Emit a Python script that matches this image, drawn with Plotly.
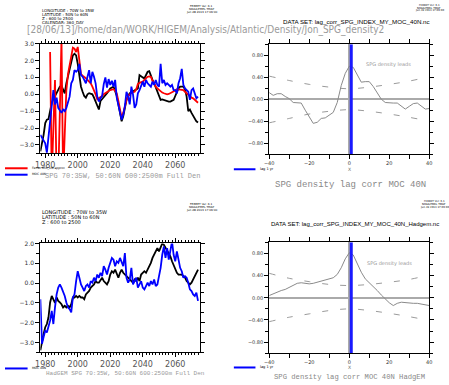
import plotly.graph_objects as go

W, H = 449, 385
def px(x): return x / W
def py(y): return 1 - y / H

# ---------------- data ----------------
YEAR0 = 1977
top_black = [-3.37, -2.9, -2.4, -1.7, -1.5, -1.47, -0.9, -0.5, -0.3, -0.1,
             0.06, 0.25, 0.45, 0.5, 0.25, 0.06, 0.65, 1.04, 1.43, 1.92,
             2.3, 2.4, 2.3, 1.8, 1.04, 0.45, 0.15, -0.1, -0.2, 0.0,
             0.06, 0.02, 0.0, -0.2, -0.4, -0.7, -0.9, -0.4, -0.3, -0.2,
             -0.05, 0.06, 0.2, 0.35, 0.4, 0.45, 0.2, -0.1, -0.6, -1.1,
             -1.6, -1.3, -0.8, -0.33, -0.1, 0.06, 0.1, 0.15, 0.25, 0.3,
             0.35, 1.14, 1.04, 1.0, 0.94, 1.1, 1.33, 1.37, 1.04, 0.85,
             0.65, 0.4, 0.16, -0.1, -0.33, -0.3, -0.33, -0.4, -0.43, -0.43,
             -0.43, -0.4, -0.33, -0.1, 0.16, 0.35, 0.45, 0.45, 0.45, 0.3,
             -0.14, -1.0, -0.9, -1.1, -1.3, -1.5, -1.6, -1.67]

RED_YEAR0 = 1983
top_red = [2.5, -5, -2.0, 0.85, -5, -5, -1.0, 3.3, -5, -2.5,
           0.25, 1.2, 1.8, 2.4, 2.76, 2.7, 2.5, 2.8, 1.8, 1.2,
           1.1, 1.04, 0.95, 0.85, 0.75, 0.65, 0.45, 0.25, 0.0, -0.3,
           -0.25, -0.2, -0.1, 0.0, 0.08, 0.15, 0.2, 0.25, 0.28, 0.3,
           0.2, 0.06, -0.4, -0.9, -1.4, -1.1, -0.7, -0.35, -0.1, 0.0,
           0.08, 0.12, 0.15, 0.3, 0.6, 0.68, 0.7, 0.75, 0.85, 0.95,
           1.04, 1.06, 1.04, 0.8, 0.6, 0.45, 0.35, 0.25, 0.15, 0.1,
           0.06, 0.03, 0.0, 0.02, 0.06, 0.1, 0.15, 0.22, 0.3, 0.28,
           0.25, 0.25, 0.25, 0.15, 0.06, -0.05, -0.14, -0.2, -0.24, -0.33,
           -0.43, -0.5]

top_blue = [-2.4, -2.6, -2.7, -2.9, -3.45, -2.5, -1.6, -0.5, 0.25, -0.6,
            -0.2, -0.8, -1.0, -1.1, -0.9, -1.0, -0.8, -0.4, -0.14, 0.65,
            0.85, 1.43, 1.33, 1.43, 1.8, 1.14, 1.04, 0.85, 0.65, 1.04,
            1.43, 0.65, 1.33, 1.04, 0.65, -0.14, -0.43, -0.24, -0.1, 0.6,
            1.0, 0.4, 0.9, 0.55, 0.8, 0.45, 0.85, -0.2, -0.6, -1.1,
            -1.5, -1.2, -0.7, 0.15, -0.14, -0.6, 0.45, 0.0, -0.8, -0.6,
            0.06, 0.25, 0.45, 0.75, 0.45, 0.85, 0.65, 0.55, 0.45, 0.75,
            0.55, 0.85, 0.55, 0.45, 1.8, 0.65, 0.85, 0.55, 0.65, 0.55,
            0.45, 0.55, 0.25, 0.25, 0.06, 0.65, 0.95, 1.5, 0.55, 0.35,
            0.25, 0.15, -0.33, 0.25, 0.35, 0.06, -0.24, -0.14]

bot_black = [-3.4, -2.9, -2.57, -2.23, -2.07, -1.73, -0.98, -0.65, -0.82, -1.0,
             -0.73, -0.9, -0.98, -1.07, -1.23, -1.15, -1.23, -1.15, -1.23, -1.07,
             -0.73, -0.73, -0.65, -0.73, -0.65, -0.73, -0.73, -0.82, -0.57, -0.48,
             -0.4, -0.23, -0.15, -0.07, 0.1, 0.02, 0.02, 0.18, 0.27, 0.1,
             0.02, -0.07, 0.1, 0.43, 0.6, 0.52, 0.68, 0.43, 0.27, 0.52,
             0.68, 0.52, 0.43, 0.35, 0.27, 0.18, 0.1, 0.02, 0.18, 0.1,
             0.27, 0.1, 0.43, 0.52, 0.6, 0.52, 0.68, 0.85, 1.02, 1.27,
             1.43, 1.6, 1.77, 1.6, 1.77, 2.0, 1.93, 1.77, 1.68, 1.52,
             1.35, 1.1, 0.93, 0.68, 0.52, 0.43, 0.43, 0.43, 0.35, 0.27,
             0.1, 0.02, -0.07, 0.02, 0.18, 0.35, 0.52, 0.68]

bot_blue = [-0.82, -3.07, -2.73, -2.4, -2.5, -2.23, -1.9, -1.4, -2.07, -1.23,
            -0.57, -0.23, -0.07, -0.23, -0.4, -0.65, -0.98, -1.23, -1.32, -1.48,
            -0.73, -0.57, 0.1, 0.6, 0.27, -0.07, -0.23, -0.4, -0.15, -0.07,
            -0.23, 0.1, 0.02, 0.27, 0.1, 0.43, 0.27, 0.52, 0.35, 0.85,
            0.68, 0.43, 0.77, 1.02, 1.27, 1.18, 0.85, 1.1, 1.02, 1.27,
            1.1, 0.85, 1.52, 0.27, 0.02, 0.18, 0.77, -0.07, 0.1, 0.27,
            -0.23, -0.07, 0.1, -0.23, -0.32, -0.15, 0.02, -0.15, 0.1, -0.07,
            0.18, -0.15, -0.07, 0.35, 0.77, 1.43, 1.85, 1.27, 1.77, 1.18,
            1.68, 2.1, 1.43, 1.1, 1.6, 1.1, 0.77, 0.6, 0.27, 0.35,
            0.27, 0.02, -0.32, -0.4, -0.57, -0.65, -0.48, -0.9]

LAGS = list(range(-40, 41, 2))
corr_top = [0.12, 0.07, 0.10, 0.10, 0.05, 0.01, -0.06, -0.07, -0.07, -0.20,
            -0.33, -0.44, -0.42, -0.35, -0.34, -0.29, -0.24, -0.06, 0.25, 0.47,
            0.60, 0.58, 0.43, 0.31, 0.32, 0.32, 0.23, 0.12, 0.0, -0.06,
            -0.07, -0.07, -0.07, -0.12, -0.18, -0.13, -0.08, -0.07, -0.12, -0.18,
            -0.17]
corr_bot = [0.04, 0.07, 0.11, 0.13, 0.15, 0.19, 0.23, 0.26, 0.27, 0.26,
            0.25, 0.26, 0.28, 0.31, 0.33, 0.34, 0.36, 0.42, 0.54, 0.70,
            0.81, 0.77, 0.61, 0.46, 0.34, 0.27, 0.21, 0.13, 0.05, -0.02,
            -0.09, -0.14, -0.10, -0.08, -0.09, -0.09, -0.10, -0.10, -0.11, -0.12,
            -0.14]

SIG_LAGS = list(range(-40, 41, 10))
sig_top_hi = [0.42, 0.34, 0.27, 0.22, 0.19, 0.22, 0.27, 0.33, 0.41]
sig_top_lo = [-0.43, -0.35, -0.27, -0.22, -0.19, -0.22, -0.27, -0.33, -0.40]
sig_bot_hi = [0.44, 0.35, 0.29, 0.24, 0.22, 0.24, 0.28, 0.33, 0.41]
sig_bot_lo = [-0.43, -0.35, -0.29, -0.23, -0.20, -0.23, -0.28, -0.34, -0.41]

LAG_MARK = 1
CORR_RANGE = [-1.0, 1.0]
YEAR_RANGE = [1977, 2075.5]

# ---------------- figure ----------------
years_top = list(range(YEAR0, YEAR0 + len(top_black)))
years_red = list(range(RED_YEAR0, RED_YEAR0 + len(top_red)))
years_blue = list(range(YEAR0, YEAR0 + len(top_blue)))
years_bot = list(range(YEAR0, YEAR0 + len(bot_black)))
years_bot_b = list(range(YEAR0, YEAR0 + len(bot_blue)))

fig = go.Figure()
LW = 1.8
fig.add_trace(go.Scatter(x=years_top, y=top_black, mode='lines', line=dict(color='black', width=LW), xaxis='x', yaxis='y'))
fig.add_trace(go.Scatter(x=years_red, y=top_red, mode='lines', line=dict(color='#ff0000', width=LW), xaxis='x', yaxis='y'))
fig.add_trace(go.Scatter(x=years_blue, y=top_blue, mode='lines', line=dict(color='#0000ff', width=LW), xaxis='x', yaxis='y'))

fig.add_trace(go.Scatter(x=years_bot, y=bot_black, mode='lines', line=dict(color='black', width=LW), xaxis='x3', yaxis='y3'))
fig.add_trace(go.Scatter(x=years_bot_b, y=bot_blue, mode='lines', line=dict(color='#0000ff', width=LW), xaxis='x3', yaxis='y3'))

for xa, ya, corr, hi, lo in [('x2', 'y2', corr_top, sig_top_hi, sig_top_lo),
                             ('x4', 'y4', corr_bot, sig_bot_hi, sig_bot_lo)]:
    for s in (hi, lo):
        fig.add_trace(go.Scatter(x=SIG_LAGS, y=s, mode='lines', line=dict(color='#9a9a9a', width=1, dash='6px,12px', shape='spline'),
                                 xaxis=xa, yaxis=ya))
    fig.add_trace(go.Scatter(x=LAGS, y=corr, mode='lines', line=dict(color='#8a8a8a', width=1), xaxis=xa, yaxis=ya))
    fig.add_trace(go.Scatter(x=[LAG_MARK, LAG_MARK], y=CORR_RANGE, mode='lines', line=dict(color='#1a1aff', width=3), xaxis=xa, yaxis=ya))

TL_X = [px(36), px(199)]
TR_X = [px(269), px(432)]

def time_xaxis(domain, anchor):
    return dict(domain=domain, anchor=anchor, range=YEAR_RANGE, showline=True, linecolor='black', linewidth=1,
                mirror='allticks', ticks='outside', ticklen=4, tickcolor='black', tick0=1980, dtick=20,
                minor=dict(dtick=2, ticklen=2, ticks='outside', tickcolor='black'),
                showgrid=False, zeroline=False,
                tickfont=dict(family='DejaVu Sans', size=8, color='#555555'))

def val_yaxis(domain, anchor, rng):
    return dict(domain=domain, anchor=anchor, range=rng, showline=True, linecolor='black', linewidth=1,
                mirror='allticks', ticks='outside', ticklen=4, tickcolor='black', dtick=1, tick0=0, tickformat='.1f',
                minor=dict(dtick=0.5, ticklen=3, ticks='outside', tickcolor='black'),
                showgrid=False, zeroline=False,
                tickfont=dict(family='DejaVu Sans', size=6, color='#333333'))

def lag_xaxis(domain, anchor):
    return dict(domain=domain, anchor=anchor, range=[-40, 40], showline=True, linecolor='black', linewidth=1,
                mirror='allticks', ticks='outside', ticklen=4, tickcolor='black', tick0=0, dtick=20,
                minor=dict(dtick=10, ticklen=4, ticks='outside', tickcolor='black'),
                showgrid=False, zeroline=True, zerolinecolor='#aaaaaa', zerolinewidth=1.5,
                tickfont=dict(family='DejaVu Sans', size=5, color='#333333'))

def corr_yaxis(domain, anchor):
    return dict(domain=domain, anchor=anchor, range=CORR_RANGE, showline=True, linecolor='black', linewidth=1,
                mirror='allticks', ticks='outside', ticklen=4, tickcolor='black', tick0=0, dtick=0.4, tickformat='.2f',
                minor=dict(dtick=0.2, ticklen=3, ticks='outside', tickcolor='black'),
                showgrid=False, zeroline=True, zerolinecolor='#aaaaaa', zerolinewidth=1.5,
                tickfont=dict(family='DejaVu Sans', size=5, color='#333333'))

fig.update_layout(
    width=W, height=H, margin=dict(l=0, r=0, t=0, b=0),
    paper_bgcolor='white', plot_bgcolor='white', showlegend=False,
    xaxis=time_xaxis(TL_X, 'y'),
    yaxis=val_yaxis([py(151), py(40)], 'x', [-3.5, 3.0]),
    xaxis2=lag_xaxis(TR_X, 'y2'),
    yaxis2=corr_yaxis([py(151.7), py(40.7)], 'x2'),
    xaxis3=time_xaxis(TL_X, 'y3'),
    yaxis3=val_yaxis([py(352), py(242)], 'x3', [-3.5, 2.0]),
    xaxis4=lag_xaxis(TR_X, 'y4'),
    yaxis4=corr_yaxis([py(353), py(240.7)], 'x4'),
)

ann = []
def text(x, y, s, size, color='black', family='DejaVu Sans', xanchor='left'):
    ann.append(dict(x=px(x), y=py(y), xref='paper', yref='paper', text=s, showarrow=False,
                    xanchor=xanchor, yanchor='middle', font=dict(size=size, color=color, family=family)))

# path line
text(20, 26, '[28/06/13]/home/dan/WORK/HIGEM/Analysis/Atlantic/Density/Jon_SPG_density2', 10, '#9a9a9a',
     'Liberation Sans Narrow, DejaVu Sans Condensed, Liberation Sans')

# top-left header
for i, s in enumerate(['LONGITUDE : 70W to 35W', 'LATITUDE : 50N to 60N', 'Z : 600 to 2500', 'CALENDAR: 360_DAY']):
    text(36, 7 + 4 * i, s, 4)
ferret = ['FERRET Ver. 6.1', 'NOAA/PMEL TMAP', 'Jun 28 2013 17:09:00']
for i, s in enumerate(ferret):
    text(200, 2 + 3 * i, s, 2.8, xanchor='center')
    text(432, 2 + 2.4 * i, s, 2.6, xanchor='center')
    text(200, 202.5 + 3 * i, s, 2.8, xanchor='center')
    text(437, 200 + 2.6 * i, s, 2.6, xanchor='center')

text(358, 18, 'DATA SET: lag_corr_SPG_INDEX_MY_MOC_40N.nc', 6.2, family='Liberation Sans', xanchor='center')
text(356, 222, 'DATA SET: lag_corr_SPG_INDEX_MY_MOC_40N_Hadgem.nc', 6.0, family='Liberation Sans', xanchor='center')

# bottom-left header
for i, s in enumerate(['LONGITUDE : 70W to 35W', 'LATITUDE : 50N to 60N', 'Z : 600 to 2500']):
    text(36, 210 + 5.3 * i, s, 5)

# left legends
text(25, 166, 'Ferret Rho_UN approx', 3)
text(25, 172, 'MOC 40N', 3)
text(39, 174, 'SPG 70:35W, 50:60N 600:2500m Full Den', 7, '#999999', 'Liberation Mono')
text(25, 368, 'MOC 40N', 3)
text(40, 373.3, 'HadGEM SPG 70:35W, 50:60N 600:2500m Full Den', 6, '#999999', 'Liberation Mono')

# right panel texts
text(390, 61, 'SPG density leads', 5, '#999999', xanchor='center')
text(391, 262.7, 'SPG density leads', 5, '#999999', xanchor='center')
text(351, 167, 'X', 4.5, '#555555', xanchor='center')
text(351, 367.7, 'X', 4.5, '#555555', xanchor='center')
text(258, 167, 'lag 1 yr', 3.5)
text(258, 367.3, 'lag 1 yr', 3.5)
text(352, 182.5, 'SPG density lag corr MOC 40N', 9, '#888888', 'Liberation Mono', xanchor='center')
text(351, 376.7, 'SPG density lag corr MOC 40N HadgEM', 7.2, '#888888', 'Liberation Mono', xanchor='center')

fig.update_layout(annotations=ann)

shapes = []
def hline(x0, x1, y, color):
    shapes.append(dict(type='line', xref='paper', yref='paper', x0=px(x0), x1=px(x1), y0=py(y), y1=py(y),
                       line=dict(color=color, width=2)))
hline(0, 23, 166, '#ff0000')
hline(0, 23, 172.5, '#0000ff')
hline(0, 23, 368.3, '#0000ff')
hline(233, 255, 167, '#0000ff')
hline(233, 255, 367.3, '#0000ff')
fig.update_layout(shapes=shapes)

fig.write_html('out.html', config={'displayModeBar': False},
               post_script="document.body.style.margin='0';document.body.style.overflow='hidden';")
